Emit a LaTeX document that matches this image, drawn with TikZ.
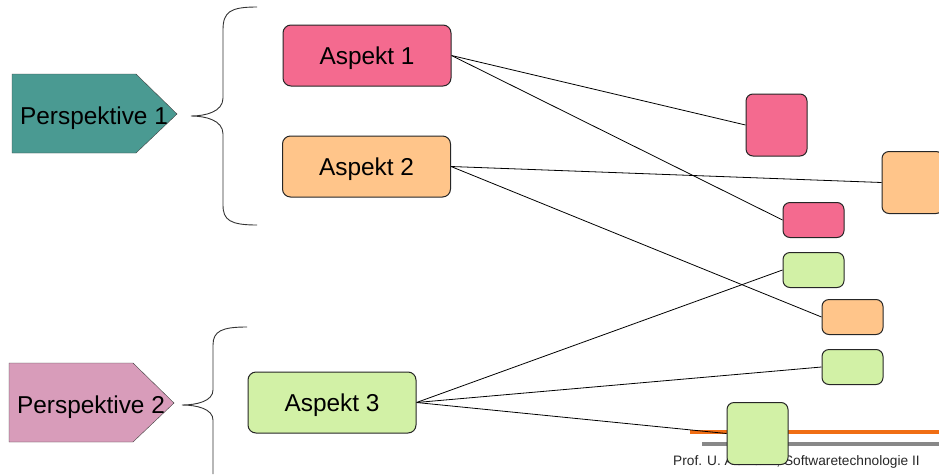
\documentclass[tikz,border=0pt]{standalone}
\usepackage{fontspec}
\setmainfont{Liberation Sans}
\usepackage{tikz}
\usetikzlibrary{positioning,backgrounds}
\definecolor{perspA}{RGB}{74,154,146}
\definecolor{perspB}{RGB}{216,156,186}
\definecolor{aspA}{RGB}{244,106,143}
\definecolor{aspB}{RGB}{255,197,138}
\definecolor{aspC}{RGB}{210,241,166}
\definecolor{barO}{RGB}{240,110,20}
\definecolor{barG}{RGB}{136,136,136}

\begin{document}
\begin{tikzpicture}[x=1pt,y=-1pt,
    aspekt/.style={draw=black!85,line width=1pt,rounded corners=8pt,minimum width=168pt,minimum height=61pt,
      font=\fontsize{24.4}{28}\selectfont,inner sep=0pt,text depth=0pt},
    kasten/.style={draw=black!85,line width=1pt,rounded corners=7pt,minimum width=61pt,inner sep=0pt},
    klein/.style={kasten,minimum height=35pt},
    gross/.style={kasten,minimum height=62pt},
    klammer/.style={draw=black!80,line width=0.9pt},
    every edge/.style={draw,black,line width=0.8pt}]
  \useasboundingbox (0,0) rectangle (939,474);

  % perspectives
  \draw[draw=black!75,fill=perspA] (12,74) -- (136,74) -- (177,114) -- (136,153) -- (12,153) -- cycle;
  \node[font=\fontsize{24.4}{28}\selectfont,text depth=0pt] (p1) at (94,115.5) {Perspektive 1};
  \draw[draw=black!75,fill=perspB] (9,363) -- (133,363) -- (174,403) -- (133,442) -- (9,442) -- cycle;
  \node[font=\fontsize{24.4}{28}\selectfont,text depth=0pt] (p2) at (91,405) {Perspektive 2};

  % braces
  \path[klammer] (257,7) .. controls (230,7) and (223,12) .. (223,30) -- (223,98)
    .. controls (223,112) and (205,116) .. (191,116)
    .. controls (205,116) and (223,120) .. (223,134) -- (223,205)
    .. controls (223,220) and (230,225) .. (257,225);
  \path[klammer] (247,327) .. controls (222,327) and (213,331) .. (213,345) -- (213,390)
    .. controls (213,401) and (197,405) .. (182,405)
    .. controls (197,405) and (213,409) .. (213,420) -- (213,474);

  % aspects
  \node[aspekt,fill=aspA] (a1) at (367,55.5) {Aspekt 1};
  \node[aspekt,fill=aspB] (a2) at (366.5,166.5) {Aspekt 2};
  \node[aspekt,fill=aspC] (a3) at (332,402.5) {Aspekt 3};

  % targets
  \node[gross,fill=aspA] (t1) at (776.5,125) {};
  \node[gross,fill=aspB] (t2) at (912.5,182.5) {};
  \node[klein,fill=aspA] (t3) at (813.5,220) {};
  \node[klein,fill=aspC] (t4) at (813.5,270) {};
  \node[klein,fill=aspB] (t5) at (852.5,317) {};
  \node[klein,fill=aspC] (t6) at (852.5,367) {};
  \node[gross,fill=aspC] (t7) at (757.5,433.5) {};

  \begin{scope}[on background layer]
    % footer
    \draw[barO,line width=4pt] (690,432) -- (939,432);
    \draw[barG,line width=4pt] (702,444) -- (939,444);
    \node[anchor=base west,inner sep=0pt,font=\fontsize{13.7}{15}\selectfont,text=black!85] (fuss) at (673,465)
      {Prof. U. Aßmann, Softwaretechnologie II};

    \path
      (a1.east) edge (t1.west)
      (a1.east) edge (t3.west)
      (a2.east) edge (t2.west)
      (a2.east) edge (t5.west)
      (a3.east) edge (t4.west)
      (a3.east) edge (t6.west)
      (a3.east) edge (t7.west);
  \end{scope}
\end{tikzpicture}
\end{document}
